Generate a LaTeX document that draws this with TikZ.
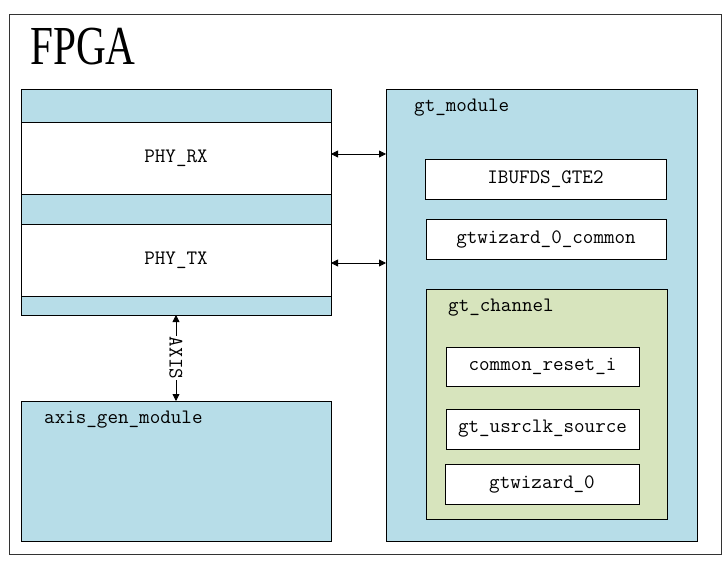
\documentclass[tikz,border=0pt]{standalone}
\usepackage{fontspec}
\newfontfamily\fpgafont{Liberation Serif}
\usetikzlibrary{arrows.meta}
\definecolor{blueC}{HTML}{B7DDE8}
\definecolor{greenC}{HTML}{D7E4BD}
\begin{document}
\begin{tikzpicture}[x=1pt,y=-1pt,
  blk/.style={draw=black, line width=0.8pt, anchor=north west, inner sep=0pt, outer sep=0pt,
    font=\fontsize{20.5pt}{21pt}\selectfont\ttfamily},
  lbl/.style={anchor=west, inner sep=0pt, font=\fontsize{20.5pt}{21pt}\selectfont\ttfamily},
  arr/.style={line width=0.8pt, {Triangle[length=7pt,width=7pt]}-{Triangle[length=7pt,width=7pt]}}
]
\useasboundingbox (0,0) rectangle (725,561);
% outer FPGA frame
\node[blk, draw=black!80, fill=white, minimum width=712pt, minimum height=540pt] (fpga) at (9,14) {};
\node[anchor=west, inner sep=0pt, font=\fontsize{55pt}{55pt}\selectfont\fpgafont] (fpgalbl) at (30,47) {\scalebox{0.75}[1]{FPGA}};
% left PHY stack
\node[blk, fill=blueC, minimum width=310pt, minimum height=226pt] (stack) at (21,89) {};
\node[blk, fill=white, minimum width=310pt, minimum height=72pt] (rx) at (21,122) {PHY\_RX};
\node[blk, fill=white, minimum width=310pt, minimum height=72pt] (tx) at (21,224) {PHY\_TX};
% axis gen module
\node[blk, fill=blueC, minimum width=310pt, minimum height=140pt] (axisgen) at (21,401) {};
\node[lbl] (axisgenlbl) at (44,420) {axis\_gen\_module};
% gt module
\node[blk, fill=blueC, minimum width=311pt, minimum height=452pt] (gt) at (386,89) {};
\node[lbl] (gtlbl) at (414,108) {gt\_module};
\node[blk, fill=white, minimum width=241pt, minimum height=40pt] (ibuf) at (425,159) {IBUFDS\_GTE2};
\node[blk, fill=white, minimum width=240pt, minimum height=40pt] (common) at (426,219) {gtwizard\_0\_common};
% gt channel
\node[blk, fill=greenC, minimum width=241pt, minimum height=230pt] (chan) at (426,289) {};
\node[lbl] (chanlbl) at (448,308) {gt\_channel};
\node[blk, fill=white, minimum width=193pt, minimum height=39pt] (reset) at (446,347) {common\_reset\_i};
\node[blk, fill=white, minimum width=193pt, minimum height=40pt] (usrclk) at (446,409) {gt\_usrclk\_source};
\node[blk, fill=white, minimum width=194pt, minimum height=40pt] (wiz) at (445,464) {gtwizard\_0};
% connectors
\draw[arr] ([yshift=4pt]rx.east) -- ([yshift=4pt]rx.east -| gt.west);
\draw[arr] ([yshift=-3pt]tx.east) -- ([yshift=-3pt]tx.east -| gt.west);
\draw[arr] (stack.south) -- (axisgen.north)
  node[midway, fill=white, rotate=-90, inner sep=1pt, font=\fontsize{20.5pt}{21pt}\selectfont\ttfamily] (axislbl) {AXIS};
\end{tikzpicture}
\end{document}
